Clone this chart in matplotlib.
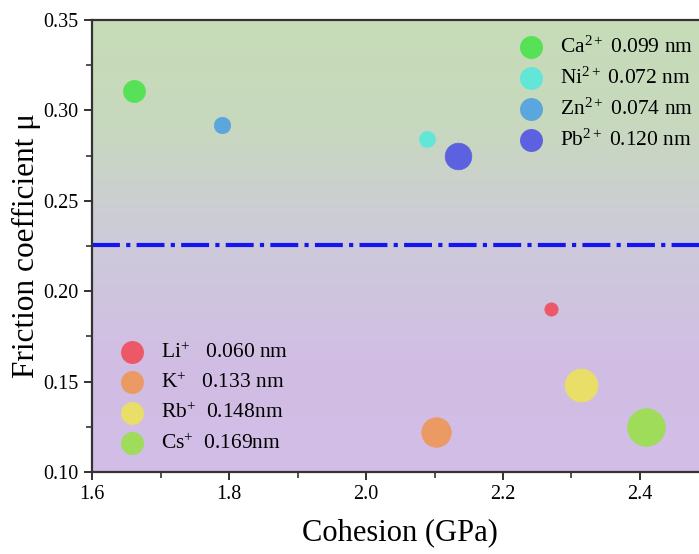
"""Friction coefficient vs cohesion for different cations."""

import numpy as np
import matplotlib
matplotlib.use('Agg')
import matplotlib.pyplot as plt
from matplotlib.colors import LinearSegmentedColormap

plt.rcParams.update({
    'font.family': 'serif',
    'font.serif': ['Liberation Serif', 'DejaVu Serif'],
    'mathtext.fontset': 'custom',
    'mathtext.rm': 'Liberation Serif',
    'mathtext.it': 'Liberation Serif:italic',
})

# ── Data ─────────────────────────────────────────────────────────────────────
ions_top      = ['Ca$^{2+}$', 'Ni$^{2+}$', 'Zn$^{2+}$', 'Pb$^{2+}$']
radius_top    = [0.099, 0.072, 0.074, 0.120]
radius_top_lb = ['0.099 nm', '0.072 nm', '0.074 nm', '0.120 nm']
cohesion_top  = [1.662, 2.089, 1.790, 2.134]
friction_top  = [0.311, 0.284, 0.292, 0.275]

ions_bot      = ['Li$^{+}$', 'K$^{+}$', 'Rb$^{+}$', 'Cs$^{+}$']
radius_bot    = [0.060, 0.133, 0.148, 0.169]
radius_bot_lb = ['   0.060 nm', '   0.133 nm', '  0.148nm', '  0.169nm']
cohesion_bot  = [2.270, 2.102, 2.314, 2.409]
friction_bot  = [0.190, 0.122, 0.148, 0.125]

threshold = 0.2255

# ── Style ────────────────────────────────────────────────────────────────────
COL_TOP = ['#57e157', '#62e6d8', '#5ba6dc', '#5c62df']
COL_BOT = ['#ec5868', '#ec9a64', '#e8de68', '#9edc5a']
SIZE_K  = 160          # marker diameter (pt) per nm of ionic radius
LEG_S   = 15.5
LEG_FS  = 15.5

fig = plt.figure(figsize=(6.99, 5.54), dpi=100, facecolor='white')
ax = fig.add_axes([92/699, 82/554, (708.5 - 92)/699, 452/554])
ax.set_xlim(1.6, 2.5)
ax.set_ylim(0.10, 0.35)

# gradient background
cmap = LinearSegmentedColormap.from_list(
    'bg', [(0.0, '#d2bde6'), (0.25, '#d1bee4'), (0.52, '#cdcbd9'),
           (0.78, '#c8d9bd'), (1.0, '#c6dcb8')])
grad = np.linspace(0, 1, 256).reshape(-1, 1)
ax.imshow(grad, cmap=cmap, origin='lower', aspect='auto',
          extent=[1.6, 2.5, 0.10, 0.35], zorder=0)

ax.axhline(threshold, color='#1515f0', lw=3.0,
           linestyle=(0, (6.7, 1.5, 1.0, 1.5)), zorder=2)

for x, y, r, c in zip(cohesion_top, friction_top, radius_top, COL_TOP):
    ax.scatter(x, y, s=(SIZE_K * r) ** 2, color=c, edgecolor=c,
               linewidth=0.5, zorder=3)
for x, y, r, c in zip(cohesion_bot, friction_bot, radius_bot, COL_BOT):
    ax.scatter(x, y, s=(SIZE_K * r) ** 2, color=c, edgecolor=c,
               linewidth=0.5, zorder=3)

h_top = [ax.scatter([], [], s=LEG_S ** 2, color=c) for c in COL_TOP]
h_bot = [ax.scatter([], [], s=LEG_S ** 2, color=c) for c in COL_BOT]

lab_top = [f'{a} {b}' for a, b in zip(ions_top, radius_top_lb)]
lab_bot = [f'{a}{b}' for a, b in zip(ions_bot, radius_bot_lb)]

leg_kw = dict(loc='upper left', frameon=False, fontsize=LEG_FS,
              handlelength=1.6, handletextpad=0.55,
              borderaxespad=0.0, borderpad=0.4)
leg1 = ax.legend(h_top, lab_top, bbox_to_anchor=(0.670, 0.982),
                 labelspacing=0.45, **leg_kw)
ax.add_artist(leg1)
ax.legend(h_bot, lab_bot, bbox_to_anchor=(0.023, 0.305),
          labelspacing=0.47, **leg_kw)

# ── Axes ─────────────────────────────────────────────────────────────────────
ax.set_xticks([1.6, 1.8, 2.0, 2.2, 2.4])
ax.set_xticks([1.7, 1.9, 2.1, 2.3], minor=True)
ax.set_yticks([0.10, 0.15, 0.20, 0.25, 0.30, 0.35])
ax.set_yticks([0.125, 0.175, 0.225, 0.275, 0.325], minor=True)
ax.xaxis.set_major_formatter(plt.FormatStrFormatter('%.1f'))
ax.yaxis.set_major_formatter(plt.FormatStrFormatter('%.2f'))
ax.tick_params(which='major', direction='out', length=6, width=1.3,
               labelsize=14.5, color='#222222')
ax.tick_params(which='minor', direction='out', length=4, width=1.1,
               color='#222222')
for s in ax.spines.values():
    s.set_linewidth(1.6)
    s.set_color('#333333')

ax.set_xlabel('Cohesion (GPa)', fontsize=22, labelpad=10)
ax.set_ylabel('Friction coefficient μ', fontsize=22.5, labelpad=2)

fig.savefig('out.png', dpi=100)
